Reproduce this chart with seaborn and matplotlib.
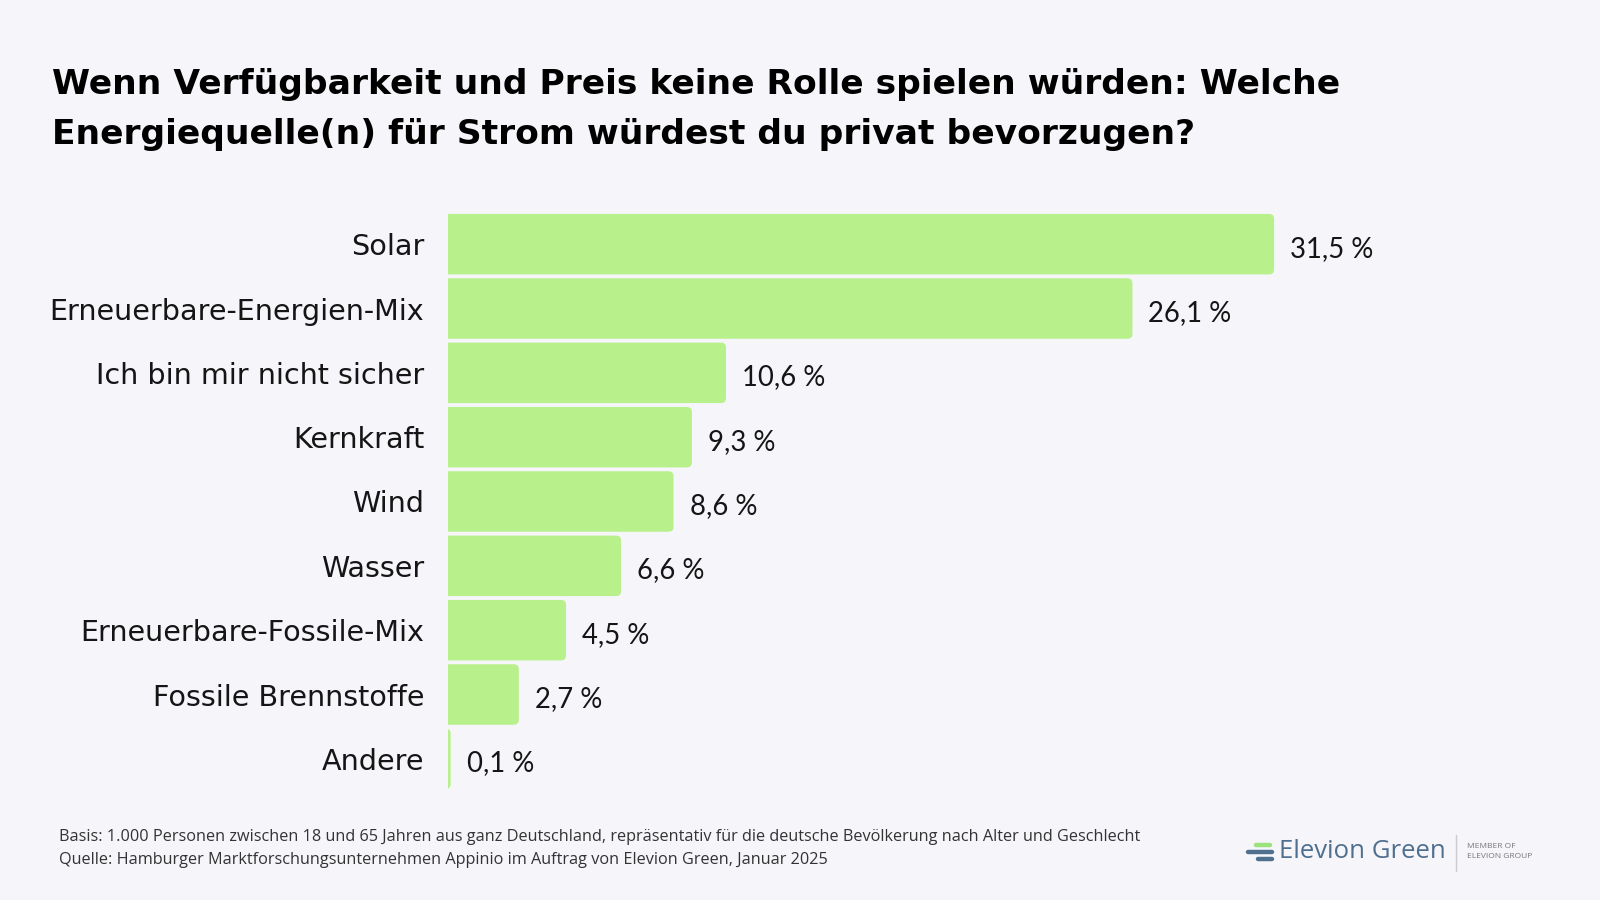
import matplotlib
matplotlib.use("Agg")
import matplotlib.pyplot as plt
import seaborn as sns
import pandas as pd
from matplotlib.patches import FancyBboxPatch
from matplotlib.lines import Line2D

categories = ["Solar", "Erneuerbare-Energien-Mix", "Ich bin mir nicht sicher", "Kernkraft",
              "Wind", "Wasser", "Erneuerbare-Fossile-Mix", "Fossile Brennstoffe", "Andere"]
values = [31.5, 26.1, 10.6, 9.3, 8.6, 6.6, 4.5, 2.7, 0.1]
value_labels = ["31,5 %", "26,1 %", "10,6 %", "9,3 %", "8,6 %", "6,6 %", "4,5 %", "2,7 %", "0,1 %"]

title = ("Wenn Verfügbarkeit und Preis keine Rolle spielen würden: Welche\n"
         "Energiequelle(n) für Strom würdest du privat bevorzugen?")
note1 = ("Basis: 1.000 Personen zwischen 18 und 65 Jahren aus ganz Deutschland, repräsentativ "
         "für die deutsche Bevölkerung nach Alter und Geschlecht")
note2 = "Quelle: Hamburger Marktforschungsunternehmen Appinio im Auftrag von Elevion Green, Januar 2025"

BG = "#f5f5fa"
BAR = "#b8f08b"
TXT = "#151515"

sns.set_theme(style="white")
plt.rcParams["font.family"] = ["Open Sans", "DejaVu Sans"]

df = pd.DataFrame({"cat": categories, "val": values})

W, H = 1600, 900
fig = plt.figure(figsize=(16, 9), dpi=100, facecolor=BG)
left, right = 448, 1497
top, bottom = 212, 791
ax = fig.add_axes([left / W, 1 - bottom / H, (right - left) / W, (bottom - top) / H])
ax.set_facecolor(BG)

sns.barplot(data=df, y="cat", x="val", orient="h", color=BAR, width=0.94,
            saturation=1, ax=ax, edgecolor="none")
ax.set_xlim(0, 40)
ax.set_ylim(len(categories) - 0.5, -0.5)

LABEL_FONT = ["DejaVu Sans"]
LABEL_SIZE = 20.6
VALUE_FONT = ["Lato", "DejaVu Sans"]
VALUE_SIZE = 19.8

# rounded corners
px_x = (right - left) / 40.0
px_y = (bottom - top) / len(categories)
r = 5 / px_x
for p in list(ax.patches):
    x0, y0 = p.get_x(), p.get_y()
    w, h = p.get_width(), p.get_height()
    p.set_visible(False)
    fb = FancyBboxPatch((x0 - r, y0), w + r, h,
                        boxstyle=f"round,pad=0,rounding_size={r}",
                        mutation_aspect=px_x / px_y,
                        facecolor=BAR, edgecolor="none")
    ax.add_patch(fb)
    idx = int(round(y0 + h / 2))
    ax.text(x0 + w + 16 / px_x, y0 + h / 2 + 0.03, value_labels[idx],
            va="center_baseline", ha="left", fontsize=VALUE_SIZE, color=TXT, family=VALUE_FONT)

ax.set_xlabel("")
ax.set_ylabel("")
ax.set_xticks([])
ax.tick_params(axis="y", length=0, pad=17, labelsize=LABEL_SIZE, labelcolor=TXT)
for lab in ax.get_yticklabels():
    lab.set_verticalalignment("center_baseline")
    lab.set_family(LABEL_FONT)
for s in ax.spines.values():
    s.set_visible(False)

fig.text(52 / W, 1 - 68 / H, title, ha="left", va="top", fontsize=24.8, fontweight="bold",
         family=["DejaVu Sans"], color="#000000", linespacing=1.66)

fig.text(59 / W, 1 - 837 / H, note1, ha="left", va="center", fontsize=11.7, color="#333333")
fig.text(59 / W, 1 - 860 / H, note2, ha="left", va="center", fontsize=11.7, color="#333333")

# logo
def fx(x): return x / W
def fy(y): return 1 - y / H
fig.add_artist(Line2D([fx(1256), fx(1270)], [fy(845), fy(845)], color="#9be27a", lw=3.2, solid_capstyle="round"))
fig.add_artist(Line2D([fx(1248), fx(1272)], [fy(852), fy(852)], color="#4f6f8f", lw=3.2, solid_capstyle="round"))
fig.add_artist(Line2D([fx(1258), fx(1272)], [fy(859), fy(859)], color="#4f6f8f", lw=3.2, solid_capstyle="round"))
fig.text(fx(1279), fy(852), "Elevion Green", ha="left", va="center", fontsize=18.5, color="#4f6f8f")
fig.add_artist(Line2D([fx(1456), fx(1456)], [fy(835), fy(871)], color="#cccccc", lw=1))
fig.text(fx(1467), fy(846), "MEMBER OF", ha="left", va="center", fontsize=6, color="#777777")
fig.text(fx(1467), fy(857), "ELEVION GROUP", ha="left", va="center", fontsize=6, color="#777777")

fig.savefig("out.png", dpi=100, facecolor=BG)
